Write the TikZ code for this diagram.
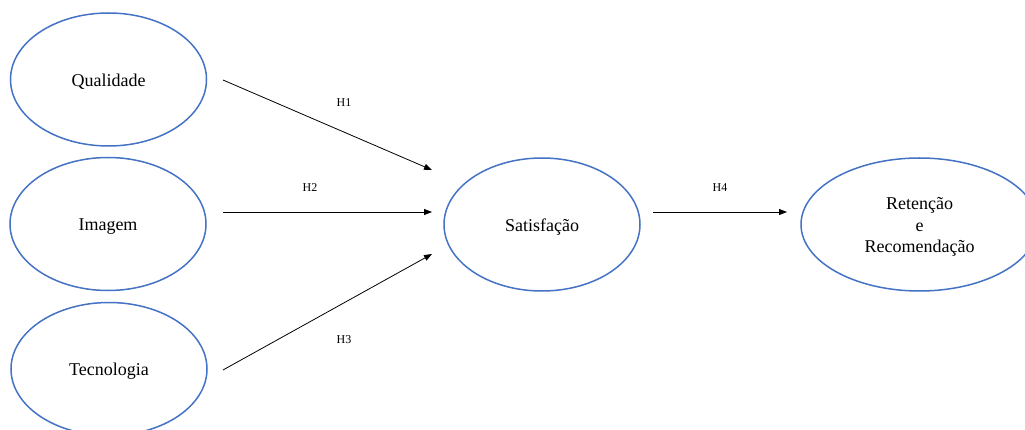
\documentclass[tikz,border=0pt]{standalone}
\usepackage{fontspec}
\setmainfont{Liberation Serif}
\usetikzlibrary{shapes.geometric,arrows.meta}
\definecolor{ellblue}{HTML}{4472C4}
\begin{document}
\begin{tikzpicture}[x=1pt,y=-1pt,
  construct/.style={ellipse,draw=ellblue,line width=1.5pt,minimum width=196pt,minimum height=133pt,inner sep=0pt,
    label={[font=\fontsize{18}{21.5}\selectfont,align=center,inner sep=0pt,yshift=-2.5pt]center:#1}},
  hyp/.style={draw=black,line width=0.8pt,-{Triangle[length=8pt,width=6pt]}},
  hlabel/.style={font=\fontsize{12}{14}\selectfont,inner sep=0pt}]
\useasboundingbox (0,0) rectangle (1025,430);
\clip (0,0) rectangle (1025,430);
\node[construct={Qualidade}] (Q) at (108.5,79.5) {};
\node[construct={Imagem}] (I) at (108,224) {};
\node[construct={Tecnologia}] (T) at (109,369) {};
\node[construct={Satisfação}] (S) at (542,224.5) {};
\node[construct={Retenção\\e\\Recomendação},minimum width=237pt] (R) at (919.5,224.5) {};
\coordinate (q1) at (223,80);
\coordinate (i1) at (223,212);
\coordinate (t1) at (223,370);
\coordinate (sa) at (432,170);
\coordinate (sb) at (432,212);
\coordinate (sc) at (432,254);
\coordinate (s4) at (653,212);
\coordinate (r4) at (787,212);
\draw[hyp] (q1) -- (sa);
\draw[hyp] (i1) -- (sb);
\draw[hyp] (t1) -- (sc);
\draw[hyp] (s4) -- (r4);
\node[hlabel] (h1) at (344,103) {H1};
\node[hlabel] (h2) at (310,188) {H2};
\node[hlabel] (h3) at (344,340) {H3};
\node[hlabel] (h4) at (720,188) {H4};
\end{tikzpicture}
\end{document}
